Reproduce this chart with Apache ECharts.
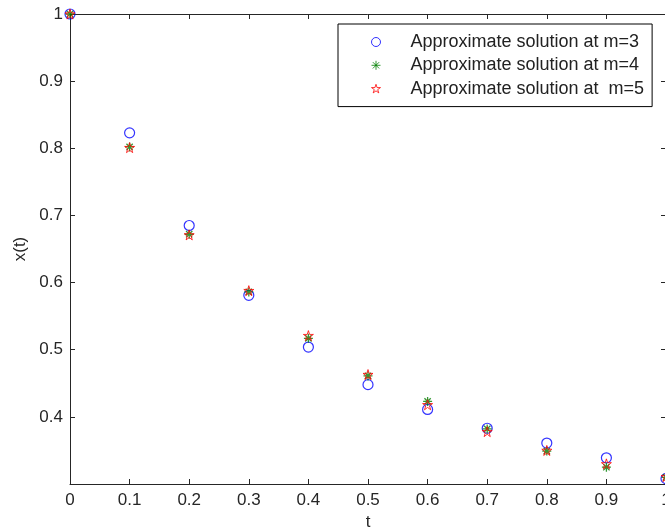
<!DOCTYPE html>
<html>
<head>
<meta charset="utf-8">
<script src="https://cdn.jsdelivr.net/npm/echarts@6/dist/echarts.min.js"></script>
<style>
  html, body { margin: 0; padding: 0; background: #fff; }
  #chart { width: 665px; height: 531px; }
</style>
</head>
<body>
<div id="chart"></div>
<script>
// t values, shared by all three series
const tValues = [0, 0.1, 0.2, 0.3, 0.4, 0.5, 0.6, 0.7, 0.8, 0.9, 1.0];
// approximate solutions
const m3Values = [1.000, 0.823, 0.685, 0.581, 0.504, 0.448, 0.411, 0.383, 0.361, 0.339, 0.308];
const m4Values = [1.000, 0.802, 0.672, 0.586, 0.517, 0.461, 0.423, 0.382, 0.349, 0.325, 0.310];
const m5Values = [1.000, 0.801, 0.671, 0.588, 0.521, 0.463, 0.418, 0.378, 0.350, 0.330, 0.311];
const seriesNames = ['Approximate solution at m=3', 'Approximate solution at m=4', 'Approximate solution at  m=5'];

const axisColor = '#262626';
const font = 'Liberation Sans, Arial, sans-serif';

// MATLAB-like marker shapes (stroke only)
const asteriskPath = 'path://M0,-50L0,50M-50,0L50,0M-35,-35L35,35M-35,35L35,-35';
const starPath = 'path://M0,-100L22.45,-30.9L95.1,-30.9L36.3,11.8L58.8,80.9L0,38.2L-58.8,80.9L-36.3,11.8L-95.1,-30.9L-22.45,-30.9Z';

function pairs(ys) {
  let out = [];
  for (let i = 0; i < tValues.length; i++) {
    out.push([tValues[i], ys[i]]);
  }
  return out;
}

function xLabel(v) {
  return String(Math.round(v * 10) / 10);
}
function yLabel(v) {
  if (v < 0.35) return '';
  return String(Math.round(v * 10) / 10);
}

const chart = echarts.init(document.getElementById('chart'));
const option = {
  backgroundColor: '#fff',
  animation: false,
  grid: { left: 70, right: -1, top: 14, bottom: 47, containLabel: false, outerBoundsMode: 'none' },
  legend: {
    orient: 'vertical',
    left: 338,
    top: 24,
    padding: [9, 8, 9, 33],
    itemGap: 5.3,
    itemWidth: 9,
    itemHeight: 9,
    borderColor: '#000',
    borderWidth: 1,
    backgroundColor: '#fff',
    itemStyle: { borderWidth: 1 },
    textStyle: { fontFamily: font, fontSize: 18, color: '#222', lineHeight: 18, padding: [0, 0, 0, 25] },
    data: seriesNames
  },
  xAxis: [{
    type: 'value', min: 0, max: 1, interval: 0.1,
    name: 't', nameLocation: 'middle', nameGap: 30,
    nameTextStyle: { fontFamily: font, fontSize: 17, color: axisColor },
    axisLine: { show: true, onZero: false, lineStyle: { color: axisColor, width: 1 } },
    axisTick: { show: true, inside: true, length: 5, lineStyle: { color: axisColor } },
    axisLabel: { fontFamily: font, fontSize: 17, color: axisColor, margin: 8, formatter: xLabel },
    splitLine: { show: false }
  }, {
    type: 'value', min: 0, max: 1, interval: 0.1, position: 'top',
    axisLine: { show: true, onZero: false, lineStyle: { color: axisColor, width: 1 } },
    axisTick: { show: true, inside: true, length: 5, lineStyle: { color: axisColor } },
    axisLabel: { show: false },
    splitLine: { show: false }
  }],
  yAxis: [{
    type: 'value', min: 0.3, max: 1, interval: 0.1,
    name: 'x(t)', nameLocation: 'middle', nameGap: 41, nameRotate: 90,
    nameTextStyle: { fontFamily: font, fontSize: 17, color: axisColor },
    axisLine: { show: true, onZero: false, lineStyle: { color: axisColor, width: 1 } },
    axisTick: { show: true, inside: true, length: 5, lineStyle: { color: axisColor } },
    axisLabel: { fontFamily: font, fontSize: 17, color: axisColor, margin: 7, formatter: yLabel },
    splitLine: { show: false }
  }, {
    type: 'value', min: 0.3, max: 1, interval: 0.1, position: 'right',
    axisLine: { show: true, onZero: false, lineStyle: { color: axisColor, width: 1 } },
    axisTick: { show: true, inside: true, length: 5, lineStyle: { color: axisColor } },
    axisLabel: { show: false },
    splitLine: { show: false }
  }],
  series: [{
    name: seriesNames[0],
    type: 'scatter',
    symbol: 'circle',
    symbolSize: 10,
    itemStyle: { color: 'rgba(0,0,0,0)', borderColor: '#0000ff', borderWidth: 1.2 },
    data: pairs(m3Values)
  }, {
    name: seriesNames[1],
    type: 'scatter',
    symbol: asteriskPath,
    symbolSize: 9,
    itemStyle: { color: 'rgba(0,0,0,0)', borderColor: '#008000', borderWidth: 1.3 },
    data: pairs(m4Values)
  }, {
    name: seriesNames[2],
    type: 'scatter',
    symbol: starPath,
    symbolSize: 10,
    itemStyle: { color: 'rgba(0,0,0,0)', borderColor: '#ff0000', borderWidth: 1 },
    data: pairs(m5Values)
  }]
};
chart.setOption(option);
</script>
</body>
</html>
